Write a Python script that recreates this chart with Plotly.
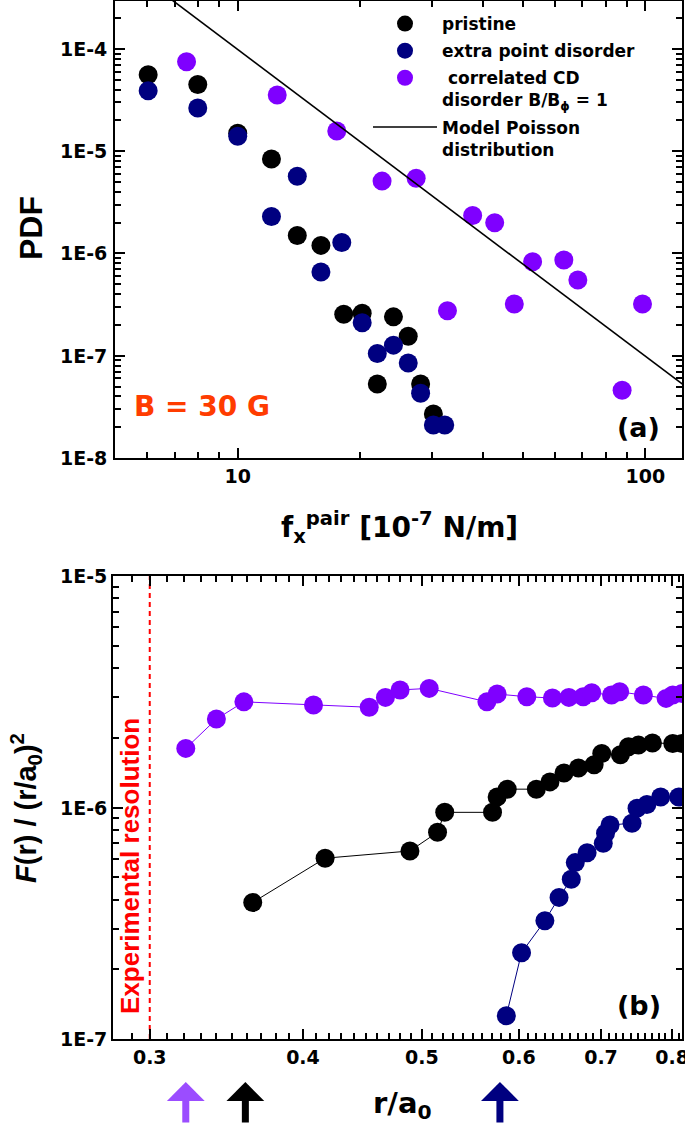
import plotly.graph_objects as go
import numpy as np

# ---------------- Panel (a) data ----------------
pristine_f = [6.03, 7.98, 10.0, 12.1, 14.0, 16.0, 18.2, 20.2, 22.0, 24.1, 26.2, 28.1, 30.2]
pristine_pdf = [5.6e-5, 4.5e-5, 1.5e-5, 8.4e-6, 1.5e-6, 1.2e-6, 2.55e-7, 2.6e-7, 5.3e-8, 2.4e-7, 1.55e-7, 5.3e-8, 2.7e-8]

point_f = [6.03, 7.98, 10.0, 12.1, 14.0, 16.0, 18.0, 20.2, 22.0, 24.1, 26.2, 28.1, 30.2, 32.2]
point_pdf = [3.9e-5, 2.65e-5, 1.4e-5, 2.3e-6, 5.7e-6, 6.6e-7, 1.28e-6, 2.1e-7, 1.05e-7, 1.27e-7, 8.5e-8, 4.3e-8, 2.1e-8, 2.1e-8]

cd_f = [7.49, 12.5, 17.5, 22.6, 27.4, 32.7, 37.7, 42.7, 47.7, 52.9, 63.1, 68.3, 87.7, 98.4]
cd_pdf = [7.5e-5, 3.55e-5, 1.58e-5, 5.1e-6, 5.45e-6, 2.75e-7, 2.35e-6, 2.0e-6, 3.2e-7, 8.3e-7, 8.65e-7, 5.5e-7, 4.6e-8, 3.2e-7]

model_f = [6.5, 130.0]
model_pdf = [3.6e-4, 4.5e-8]

# ---------------- Panel (b) data ----------------
cd_r = [0.321, 0.340, 0.358, 0.408, 0.453, 0.467, 0.480, 0.507, 0.565, 0.576, 0.609,
        0.639, 0.659, 0.677, 0.688, 0.714, 0.725, 0.758, 0.791, 0.801, 0.815]
cd_F = [1.80e-6, 2.41e-6, 2.86e-6, 2.77e-6, 2.71e-6, 2.99e-6, 3.22e-6, 3.27e-6, 2.86e-6, 3.09e-6, 3.01e-6,
        2.97e-6, 2.99e-6, 3.01e-6, 3.13e-6, 3.06e-6, 3.16e-6, 3.06e-6, 2.96e-6, 3.06e-6, 3.11e-6]

pristine_r = [0.364, 0.417, 0.489, 0.515, 0.522, 0.571, 0.576, 0.587, 0.620, 0.636, 0.653,
              0.671, 0.691, 0.701, 0.726, 0.737, 0.751, 0.771, 0.801, 0.815]
pristine_F = [3.89e-7, 6.04e-7, 6.49e-7, 7.82e-7, 9.53e-7, 9.53e-7, 1.11e-6, 1.2e-6, 1.2e-6, 1.29e-6, 1.41e-6,
              1.48e-6, 1.53e-6, 1.71e-6, 1.69e-6, 1.83e-6, 1.86e-6, 1.9e-6, 1.89e-6, 1.89e-6]

point_r = [0.586, 0.603, 0.630, 0.647, 0.662, 0.667, 0.682, 0.703, 0.706, 0.712, 0.742, 0.749, 0.763, 0.783, 0.810]
point_F = [1.26e-7, 2.36e-7, 3.24e-7, 4.09e-7, 4.9e-7, 5.78e-7, 6.38e-7, 7.0e-7, 7.74e-7, 8.4e-7, 8.55e-7,
           9.93e-7, 1.03e-6, 1.11e-6, 1.11e-6]

resolution_r = 0.30
arrow_r = [0.321, 0.359, 0.579]

xticks_a = [10, 100]
yticks_a = [1e-8, 1e-7, 1e-6, 1e-5, 1e-4]
yticktext_a = ["1E-8", "1E-7", "1E-6", "1E-5", "1E-4"]
xticks_b = [0.3, 0.4, 0.5, 0.6, 0.7, 0.8]
yticks_b = [1e-7, 1e-6, 1e-5]
yticktext_b = ["1E-7", "1E-6", "1E-5"]

# ---------------- styles ----------------
BLACK = "#000000"
NAVY = "#000080"
PURPLE = "#7F00FF"
PURPLE_ARROW = "#9B4DFF"
ORANGE = "#FF3C00"
RED = "#FF0000"
WIDE = "DejaVu Sans"
NARROW = "Liberation Sans"
MS = 19

W, H = 685, 1129


def px_x(p):
    return p / W


def px_y(p):
    return 1 - p / H


fig = go.Figure()

fig.add_trace(go.Scatter(x=pristine_f, y=pristine_pdf, mode="markers", name="pristine",
                         marker=dict(color=BLACK, size=MS), xaxis="x", yaxis="y", legendgroup="g1"))
fig.add_trace(go.Scatter(x=point_f, y=point_pdf, mode="markers", name="extra point disorder",
                         marker=dict(color=NAVY, size=MS), xaxis="x", yaxis="y", legendgroup="g2"))
fig.add_trace(go.Scatter(x=cd_f, y=cd_pdf, mode="markers",
                         name="\u00a0correlated CD<br>disorder B/B<sub>\u03d5</sub> = 1",
                         marker=dict(color=PURPLE, size=MS), xaxis="x", yaxis="y", legendgroup="g3"))
fig.add_trace(go.Scatter(x=model_f, y=model_pdf, mode="lines", name="Model Poisson<br>distribution",
                         line=dict(color=BLACK, width=1.6), xaxis="x", yaxis="y", legendgroup="g4"))

# panel b
fig.add_trace(go.Scatter(x=[resolution_r, resolution_r], y=[1e-7, 1e-5], mode="lines",
                         line=dict(color=RED, width=2, dash="5px,4px"), showlegend=False,
                         xaxis="x2", yaxis="y2"))
fig.add_trace(go.Scatter(x=cd_r, y=cd_F, mode="lines+markers", showlegend=False,
                         line=dict(color=PURPLE, width=1), marker=dict(color=PURPLE, size=MS),
                         xaxis="x2", yaxis="y2"))
fig.add_trace(go.Scatter(x=pristine_r, y=pristine_F, mode="lines+markers", showlegend=False,
                         line=dict(color=BLACK, width=1), marker=dict(color=BLACK, size=MS),
                         xaxis="x2", yaxis="y2"))
fig.add_trace(go.Scatter(x=point_r, y=point_F, mode="lines+markers", showlegend=False,
                         line=dict(color=NAVY, width=1), marker=dict(color=NAVY, size=MS),
                         xaxis="x2", yaxis="y2"))

tickfont = dict(family=WIDE, size=19, color="black", weight="bold")
common = dict(showline=True, linewidth=2, linecolor="black", mirror="allticks", ticks="inside",
              ticklen=10, tickwidth=2, tickcolor="black", showgrid=False, zeroline=False,
              tickfont=tickfont, automargin=False)


def minor_vals(lo, hi):
    vals = []
    for e in range(lo, hi + 1):
        for m in range(2, 10):
            vals.append(m * 10.0 ** e)
    return vals


fig.update_layout(
    width=W, height=H,
    margin=dict(l=0, r=0, t=0, b=0, pad=0, autoexpand=False),
    paper_bgcolor="white", plot_bgcolor="white",
    xaxis=dict(type="log", domain=[px_x(115), px_x(682)], range=[np.log10(5.0), np.log10(123)],
               tickmode="array", tickvals=xticks_a, ticktext=[str(v) for v in xticks_a],
               minor=dict(tickmode="array", tickvals=minor_vals(0, 2), ticks="inside", ticklen=6,
                          tickwidth=1.5, tickcolor="black"),
               anchor="y", ticklabeloverflow="allow", **common),
    yaxis=dict(type="log", domain=[px_y(458), px_y(1)], range=[-8, -3.531],
               tickmode="array", tickvals=yticks_a, showticklabels=False,
               minor=dict(tickmode="array", tickvals=minor_vals(-8, -4), ticks="inside", ticklen=6,
                          tickwidth=1.5, tickcolor="black"),
               anchor="x", **common),
    xaxis2=dict(type="log", domain=[px_x(113), px_x(682)], range=[np.log10(0.28), np.log10(0.815)],
                tickmode="array", tickvals=xticks_b, ticktext=[str(v) for v in xticks_b],
                minor=dict(tickmode="array", tickvals=[round(0.28 + 0.01 * i, 2) for i in range(54)],
                           ticks="inside", ticklen=6, tickwidth=1.5, tickcolor="black"),
                anchor="y2", ticklabeloverflow="allow", **common),
    yaxis2=dict(type="log", domain=[px_y(1039), px_y(576)], range=[-7, -5],
                tickmode="array", tickvals=yticks_b, showticklabels=False,
                minor=dict(tickmode="array", tickvals=minor_vals(-7, -6), ticks="inside", ticklen=6,
                           tickwidth=1.5, tickcolor="black"),
                anchor="x2", **common),
    legend=dict(x=px_x(368), y=px_y(6), xanchor="left", yanchor="top", bgcolor="rgba(0,0,0,0)",
                font=dict(family=WIDE, size=17, color="black", weight="bold"),
                valign="top", itemwidth=64, tracegroupgap=2),
    showlegend=True,
)

annotations = [
    dict(text="B = 30 G", x=px_x(202), y=px_y(407), font=dict(family=WIDE, size=28, color=ORANGE, weight="bold")),
    dict(text="(a)", x=px_x(638), y=px_y(427), font=dict(family=WIDE, size=27, color="black", weight="bold")),
    dict(text="(b)", x=px_x(639), y=px_y(1005), font=dict(family=WIDE, size=27, color="black", weight="bold")),
    dict(text="PDF", x=px_x(31), y=px_y(228), textangle=-90,
         font=dict(family=NARROW, size=32, color="black", weight="bold")),
    dict(text="f<sub>x</sub><sup>pair</sup> [10<sup>-7</sup> N/m]", x=px_x(400), y=px_y(528),
         font=dict(family=WIDE, size=28, color="black", weight="bold")),
    dict(text="<i>F</i>(r) / (r/a<sub>0</sub>)<sup>2</sup>", x=px_x(26), y=px_y(808), textangle=-90,
         font=dict(family=NARROW, size=29, color="black", weight="bold")),
    dict(text="Experimental resolution", x=px_x(130), y=px_y(866), textangle=-90,
         font=dict(family=NARROW, size=26, color=RED, weight="bold")),
    dict(text="r/a<sub>0</sub>", x=px_x(402), y=px_y(1105),
         font=dict(family=WIDE, size=29, color="black", weight="bold")),
]
for a in annotations:
    a.update(xref="paper", yref="paper", showarrow=False, xanchor="center", yanchor="middle")

# y tick labels placed next to each axis
for vals, texts, yref in ((yticks_a, yticktext_a, "y"), (yticks_b, yticktext_b, "y2")):
    for v, t in zip(vals, texts):
        annotations.append(dict(text=t, x=px_x(109), y=np.log10(v), xref="paper", yref=yref,
                                xanchor="right", yanchor="middle", showarrow=False,
                                font=tickfont))

arrow_colors = [PURPLE_ARROW, BLACK, NAVY]
for r, c in zip(arrow_r, arrow_colors):
    annotations.append(dict(text="", x=np.log10(r), y=px_y(1082), xref="x2", yref="paper",
                            showarrow=True, ax=0, ay=42, axref="pixel", ayref="pixel",
                            arrowhead=1, arrowsize=0.9, arrowwidth=7, arrowcolor=c))

fig.update_layout(annotations=annotations)

fig.write_html("out.html", config={"displayModeBar": False},
               post_script="document.body.style.margin='0';document.body.style.padding='0';"
                           "document.body.style.overflow='hidden';")
